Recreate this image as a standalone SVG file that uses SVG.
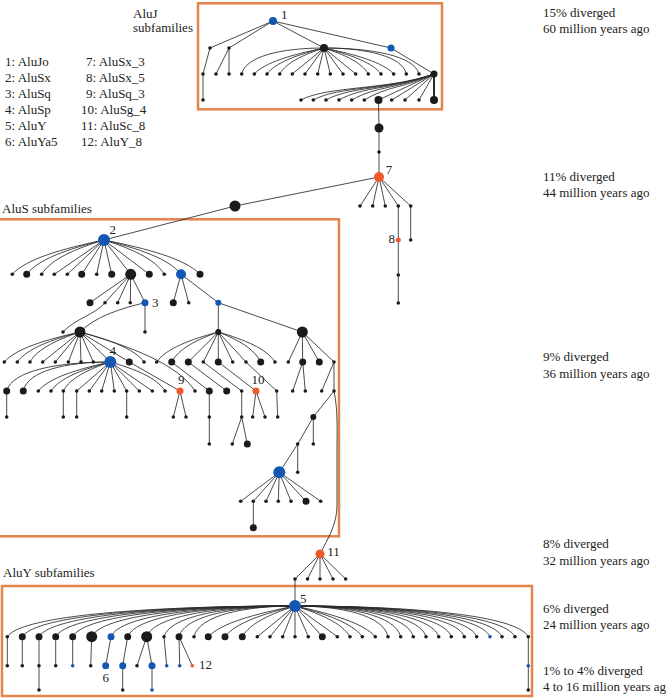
<svg xmlns="http://www.w3.org/2000/svg" width="666" height="700" viewBox="0 0 666 700">
<style>
.e{fill:none;stroke:#2b2b2b;stroke-width:.85}
.k{fill:#1b1b1b}.b{fill:#1357b3}.o{fill:#f05a2b}
.box{fill:none;stroke:#e5834d;stroke-width:2.5}
text{font-family:"Liberation Serif","Times New Roman",serif;font-size:13px;fill:#222}
</style>
<rect width="666" height="700" fill="#fff"/>
<g id="boxes">
<rect class="box" x="198" y="3.3" width="244" height="106"/>
<rect class="box" x="-2" y="219.3" width="341" height="317"/>
<rect class="box" x="2" y="586" width="530" height="110"/>
</g>
<g id="labels">
<text x="133" y="17.5">AluJ</text><text x="133" y="31.5">subfamilies</text>
<text x="5" y="65.7">1: AluJo</text><text x="5" y="81.7">2: AluSx</text><text x="5" y="97.7">3: AluSq</text>
<text x="5" y="113.7">4: AluSp</text><text x="5" y="129.7">5: AluY</text><text x="5" y="145.7">6: AluYa5</text>
<text x="86" y="65.7">7: AluSx_3</text><text x="86" y="81.7">8: AluSx_5</text><text x="86" y="97.7">9: AluSq_3</text>
<text x="81" y="113.7">10: AluSg_4</text><text x="81" y="129.7">11: AluSc_8</text><text x="81" y="145.7">12: AluY_8</text>
<text x="543" y="17">15% diverged</text><text x="543" y="32.5">60 million years ago</text>
<text x="543" y="181">11% diverged</text><text x="543" y="197">44 million years ago</text>
<text x="543" y="361">9% diverged</text><text x="543" y="377.5">36 million years ago</text>
<text x="543" y="548">8% diverged</text><text x="543" y="564.5">32 million years ago</text>
<text x="543" y="612.5">6% diverged</text><text x="543" y="628.5">24 million years ago</text>
<text x="543" y="675">1% to 4% diverged</text><text x="543" y="691">4 to 16 million years ago</text>
<text x="2" y="212.7">AluS subfamilies</text>
<text x="3" y="577.3">AluY subfamilies</text>
</g>
<g id="edges" class="e">
<path d="M273 21L210 48M273 21L229 48M273 21L324 48M273 21L391 48M210 48L203 74M203 74L203 100M229 48L216 74M229 48L229 74"/>
<path d="M324 48c-41.2 0-78.2 7.8-82.3 26"/><path d="M324 48c-31.4 6.5-59.2 14.3-69.7 26"/><path d="M324 48c-25.7 6.5-48.5 14.3-57 26"/><path d="M324 48c-19.9 6.5-37.7 14.3-44.3 26"/>
<path d="M324 48L292.3 74M324 48L305 74M324 48L317.7 74M324 48L330.3 74M324 48L343 74M324 48L355.7 74"/>
<path d="M324 48c19.9 6.5 37.7 14.3 44.3 26"/><path d="M324 48c25.7 6.5 48.5 14.3 57 26"/><path d="M324 48c31.4 6.5 59.2 14.3 69.7 26"/><path d="M324 48c41.2 0 78.2 7.8 82.3 26"/><path d="M324 48c47.5 0 90.3 7.8 95 26"/>
<path d="M391 48L434 74"/>
<path d="M434 74c-45 16-108 12-133 26"/><path d="M434 74c-45 16-95.7 12-120.7 26"/><path d="M434 74c-45 16-83 12-108 26"/><path d="M434 74c-45 16-70 12-95 26"/><path d="M434 74c-42 16-57.3 12-82.3 26"/><path d="M434 74c-30 14-47 12-69.7 26"/>
<path d="M434 74L378.5 100M434 74L391.7 100M434 74L405 100M434 74L419 100"/>
<path d="M434 74V100" style="stroke-width:2"/>
<path d="M378.5 100L379 128M379 128V152M379 152V177"/>
<path d="M379 177L360 206M379 177L372.7 206M379 177L385.3 206M379 177L398.3 206M379 177L410.7 206M398.3 206V240M398.3 240V275M398.3 275V303M410.7 206V240"/>
<path d="M379 177L235 206M235 206L104 240"/>
<path d="M104 240c-41.3 8.6-77.9 18.9-91.7 34.3"/><path d="M104 240c-34.8 8.6-65.7 18.9-77.3 34.3"/><path d="M104 240c-28 8.6-53 18.9-62.3 34.3"/>
<path d="M104 240L54.3 274.3M104 240L67.3 274.3M104 240L81.7 274.3M104 240L96.7 274.3M104 240L111.7 274.3M104 240L130.7 274.3M104 240L149.3 274.3"/>
<path d="M104 240c27.1 8.6 51.3 18.9 60.3 34.3"/><path d="M104 240c34.7 8.6 65.5 18.9 77 34.3"/><path d="M104 240c43.2 8.6 81.6 18.9 96 34.3"/>
<path d="M130.7 274.3L90 302.7M130.7 274.3L105 302.7M130.7 274.3L117.7 302.7M130.7 274.3L130.3 302.7M130.7 274.3L145 302.7"/>
<path d="M181 274.3L173.3 302.7M181 274.3L188.7 302.7M181 274.3L218.3 302.7"/>
<path d="M145 302.7c-25 6-50 14-65 29.3M145 302.7V332"/>
<path d="M105 302.7c-10 12-30 16-42 29.3"/>
<path d="M218.3 302.7V332M218.3 302.7L302.3 332"/>
<path d="M80 332c-34.1 7.6-64.3 16.7-75.7 30"/><path d="M80 332c-28.2 7.6-53.3 16.7-62.7 30"/><path d="M80 332c-22.5 7.6-42.5 16.7-50 30"/>
<path d="M80 332L42.7 362M80 332L55.3 362M80 332L68.3 362M80 332L81 362M80 332L93.3 362M80 332L110.3 362M80 332L129.3 362"/>
<path d="M80 332c28.8 7.6 54.4 16.7 64 30"/><path d="M80 332c51.8 14.7 97.8 32.3 115 59"/>
<path d="M110.3 362c-51.8 0-98.4 8.5-103.6 29"/><path d="M110.3 362c-43.5 0-82.7 8.5-87 29"/><path d="M110.3 362c-32.4 7.1-61.2 15.6-72 29"/><path d="M110.3 362c-26.7 7.1-50.4 15.6-59.3 29"/><path d="M110.3 362c-21.2 7.1-40 15.6-47 29"/>
<path d="M110.3 362L76.7 391M110.3 362L89.3 391M110.3 362L101.7 391M110.3 362L114.3 391M110.3 362L126.7 391M110.3 362L139.3 391M110.3 362L152.3 391"/>
<path d="M110.3 362c24.6 7.1 46.5 15.6 54.7 29"/>
<path d="M129.3 362L180 391"/>
<path d="M6.7 391V417M63.3 391V417M76.7 391V417M126.7 391V417M180 391L173.3 417M180 391L186 417"/>
<path d="M218.3 332c-27.7 7.5-52.4 16.5-61.6 30"/><path d="M218.3 332c-21 7.5-39.6 16.5-46.6 30"/>
<path d="M218.3 332L188.3 362M218.3 332L203.3 362M218.3 332V362M218.3 332L232.7 362M218.3 332L246 362"/>
<path d="M218.3 332c19.1 7.5 36 16.5 42.4 30"/><path d="M218.3 332c25.5 7.5 48.2 16.5 56.7 30"/>
<path d="M171.7 362L209.3 391M188.3 362L226.7 391M203.3 362L241.7 391M218.3 362L256 391M246 362L276.7 391"/>
<path d="M209.3 391V417M209.3 417V444M241.7 391V417M241.7 417L232.3 444M241.7 417L247.3 444M256 391L252.7 417M256 391L265 417M276.7 391L277.7 417"/>
<path d="M302.3 332L288.3 362M302.3 332L302.7 362M302.3 332L319.3 362M302.3 332L334 362"/>
<path d="M302.7 362L292.7 391M302.7 362L305.3 391M334 362L321.7 391M334 362V391M334 391L313.3 417M313.3 417L297.7 444M313.3 417V444M297.7 444V472.3M297.7 444L279.3 472.3"/>
<path d="M279.3 472.3L240.7 501.3M279.3 472.3L253.3 501.3M279.3 472.3L266 501.3M279.3 472.3L278.3 501.3M279.3 472.3L291 501.3M279.3 472.3L306 501.3M279.3 472.3L320.7 501.3M253.3 501.3V527.7"/>
<path d="M334 391C338 410 337 430 337 450L337 505C337 525 328 538 320 554"/>
<path d="M320 554L295 579M320 554L307.5 579M320 554V579M320 554L333 579M320 554L345.7 579M295 579V606"/>
<path d="M295 606c-143.9 0-273.3 9.2-287.7 30.7"/><path d="M295 606c-136.4 0-259.1 9.2-272.7 30.7"/><path d="M295 606c-128 0-243.2 9.2-256 30.7"/><path d="M295 606c-119.7 0-227.3 9.2-239.3 30.7"/><path d="M295 606c-111.2 0-211.2 9.2-222.3 30.7"/><path d="M295 606c-101.7 0-193.1 9.2-203.3 30.7"/><path d="M295 606c-92 0-174.8 9.2-184 30.7"/><path d="M295 606c-83.7 0-158.9 9.2-167.3 30.7"/><path d="M295 606c-74.2 0-140.9 9.2-148.3 30.7"/><path d="M295 606c-65.5 0-124.5 9.2-131 30.7"/><path d="M295 606c-58 0-110.2 9.2-116 30.7"/><path d="M295 606c-50.5 0-96 9.2-101 30.7"/>
<path d="M295 606c-39 7.7-73.7 16.9-86.7 30.7"/><path d="M295 606c-31.5 7.7-59.5 16.9-70 30.7"/><path d="M295 606c-23.7 7.7-44.8 16.9-52.7 30.7"/>
<path d="M295 606L257.3 636.7M295 606L270 636.7M295 606L282.7 636.7M295 606V636.7M295 606L308.3 636.7M295 606L322.3 636.7M295 606L337.3 636.7"/>
<path d="M295 606c24.8 7.7 46.8 16.9 55 30.7"/><path d="M295 606c30.3 7.7 57.2 16.9 67.3 30.7"/><path d="M295 606c36.1 7.7 68.3 16.9 80.3 30.7"/>
<path d="M295 606c46.5 0 88.4 9.2 93 30.7"/><path d="M295 606c52.9 0 100.4 9.2 105.7 30.7"/><path d="M295 606c59.2 0 112.4 9.2 118.3 30.7"/><path d="M295 606c65.5 0 124.5 9.2 131 30.7"/><path d="M295 606c71.9 0 136.5 9.2 143.7 30.7"/><path d="M295 606c78.2 0 148.5 9.2 156.3 30.7"/><path d="M295 606c84.7 0 160.8 9.2 169.3 30.7"/><path d="M295 606c90.9 0 172.6 9.2 181.7 30.7"/><path d="M295 606c97.5 0 185.3 9.2 195 30.7"/><path d="M295 606c103.5 0 196.7 9.2 207 30.7"/><path d="M295 606c110 0 209 9.2 220 30.7"/><path d="M295 606c116.7 0 221.6 9.2 233.3 30.7"/>
<path d="M7.3 636.7V665.7M22.3 636.7V665.7M39 636.7V665.7M39 665.7V690M55.7 636.7V665.7M72.7 636.7V665.7M91.7 636.7L90.7 665.7M111 636.7L105.7 665.7M127.7 636.7L122.7 665.7M122.7 665.7V690M146.7 636.7L137 665.7M146.7 636.7L152 665.7M152 665.7V690M164 636.7L166.7 665.7M179 636.7L179.7 665.7M179 636.7L192.3 665.7M528.3 636.7V665.7M528.3 665.7V690"/>
</g>
<g id="nodes">
<g id="n1"><circle class="b" cx="273" cy="21" r="4"/><text x="281" y="19">1</text></g>
<g id="j01"><circle class="k" cx="210" cy="48" r="1.8"/></g>
<g id="j02"><circle class="k" cx="229" cy="48" r="1.8"/></g>
<g id="j03"><circle class="k" cx="324" cy="48" r="4"/></g>
<g id="j04"><circle class="b" cx="391" cy="48" r="3.5"/></g>
<g id="j05"><circle class="k" cx="203" cy="74" r="1.8"/></g>
<g id="j06"><circle class="k" cx="203" cy="100" r="1.8"/></g>
<g id="j07"><circle class="k" cx="216" cy="74" r="1.8"/></g>
<g id="j08"><circle class="k" cx="229" cy="74" r="1.8"/></g>
<g id="j09"><circle class="k" cx="241.7" cy="74" r="1.8"/></g>
<g id="j10"><circle class="k" cx="254.3" cy="74" r="1.8"/></g>
<g id="j11"><circle class="k" cx="267" cy="74" r="1.8"/></g>
<g id="j12"><circle class="k" cx="279.7" cy="74" r="1.8"/></g>
<g id="j13"><circle class="k" cx="292.3" cy="74" r="1.8"/></g>
<g id="j14"><circle class="k" cx="305" cy="74" r="1.8"/></g>
<g id="j15"><circle class="k" cx="317.7" cy="74" r="1.8"/></g>
<g id="j16"><circle class="k" cx="330.3" cy="74" r="1.8"/></g>
<g id="j17"><circle class="k" cx="343" cy="74" r="1.8"/></g>
<g id="j18"><circle class="k" cx="355.7" cy="74" r="1.8"/></g>
<g id="j19"><circle class="k" cx="368.3" cy="74" r="1.8"/></g>
<g id="j20"><circle class="k" cx="381" cy="74" r="1.8"/></g>
<g id="j21"><circle class="k" cx="393.7" cy="74" r="1.8"/></g>
<g id="j22"><circle class="k" cx="406.3" cy="74" r="1.8"/></g>
<g id="j23"><circle class="k" cx="419" cy="74" r="1.8"/></g>
<g id="j24"><circle class="k" cx="434" cy="74" r="3.5"/></g>
<g id="j25"><circle class="k" cx="301" cy="100" r="1.8"/></g>
<g id="j26"><circle class="k" cx="313.3" cy="100" r="1.8"/></g>
<g id="j27"><circle class="k" cx="326" cy="100" r="1.8"/></g>
<g id="j28"><circle class="k" cx="339" cy="100" r="1.8"/></g>
<g id="j29"><circle class="k" cx="351.7" cy="100" r="1.8"/></g>
<g id="j30"><circle class="k" cx="364.3" cy="100" r="1.8"/></g>
<g id="j31"><circle class="k" cx="378.5" cy="100" r="4"/></g>
<g id="j32"><circle class="k" cx="391.7" cy="100" r="1.8"/></g>
<g id="j33"><circle class="k" cx="405" cy="100" r="1.8"/></g>
<g id="j34"><circle class="k" cx="419" cy="100" r="1.8"/></g>
<g id="j35"><circle class="k" cx="434" cy="100" r="4"/></g>
<g id="t1"><circle class="k" cx="379" cy="128" r="4.5"/></g>
<g id="t2"><circle class="k" cx="379" cy="152" r="1.8"/></g>
<g id="n7"><circle class="o" cx="379" cy="177" r="5"/><text x="385.7" y="174">7</text></g>
<g id="k1"><circle class="k" cx="360" cy="206" r="1.8"/></g>
<g id="k2"><circle class="k" cx="372.7" cy="206" r="1.8"/></g>
<g id="k3"><circle class="k" cx="385.3" cy="206" r="1.8"/></g>
<g id="k4"><circle class="k" cx="398.3" cy="206" r="1.8"/></g>
<g id="k5"><circle class="k" cx="410.7" cy="206" r="1.8"/></g>
<g id="n8"><circle class="o" cx="398.3" cy="240" r="2.5"/><text x="395" y="243.3" text-anchor="end">8</text></g>
<g id="k6"><circle class="k" cx="398.3" cy="275" r="1.8"/></g>
<g id="k7"><circle class="k" cx="398.3" cy="303" r="1.8"/></g>
<g id="k8"><circle class="k" cx="410.7" cy="240" r="1.8"/></g>
<g id="s1"><circle class="k" cx="235" cy="206" r="5.5"/></g>
<g id="n2"><circle class="b" cx="104" cy="240" r="6"/><text x="109.5" y="234">2</text></g>
<g id="s01"><circle class="k" cx="12.3" cy="274.3" r="1.8"/></g>
<g id="s02"><circle class="k" cx="26.7" cy="274.3" r="3.5"/></g>
<g id="s03"><circle class="k" cx="41.7" cy="274.3" r="1.8"/></g>
<g id="s04"><circle class="k" cx="54.3" cy="274.3" r="1.8"/></g>
<g id="s05"><circle class="k" cx="67.3" cy="274.3" r="1.8"/></g>
<g id="s06"><circle class="k" cx="81.7" cy="274.3" r="3.5"/></g>
<g id="s07"><circle class="k" cx="96.7" cy="274.3" r="1.8"/></g>
<g id="s08"><circle class="k" cx="111.7" cy="274.3" r="3.5"/></g>
<g id="s09"><circle class="k" cx="130.7" cy="274.3" r="5.5"/></g>
<g id="s10"><circle class="k" cx="149.3" cy="274.3" r="3.5"/></g>
<g id="s11"><circle class="k" cx="164.3" cy="274.3" r="1.8"/></g>
<g id="s12"><circle class="b" cx="181" cy="274.3" r="5"/></g>
<g id="s13"><circle class="k" cx="200" cy="274.3" r="3.5"/></g>
<g id="s14"><circle class="k" cx="90" cy="302.7" r="3.5"/></g>
<g id="s15"><circle class="k" cx="105" cy="302.7" r="1.8"/></g>
<g id="s16"><circle class="k" cx="117.7" cy="302.7" r="1.8"/></g>
<g id="s17"><circle class="k" cx="130.3" cy="302.7" r="1.8"/></g>
<g id="n3"><circle class="b" cx="145" cy="302.7" r="3.5"/><text x="152" y="306.7">3</text></g>
<g id="s18"><circle class="k" cx="173.3" cy="302.7" r="3.5"/></g>
<g id="s19"><circle class="k" cx="188.7" cy="302.7" r="1.8"/></g>
<g id="s20"><circle class="b" cx="218.3" cy="302.7" r="3"/></g>
<g id="s21"><circle class="k" cx="63" cy="332" r="1.8"/></g>
<g id="s22"><circle class="k" cx="80" cy="332" r="5.5"/></g>
<g id="s23"><circle class="k" cx="145" cy="332" r="1.8"/></g>
<g id="s24"><circle class="k" cx="218.3" cy="332" r="3"/></g>
<g id="s25"><circle class="k" cx="302.3" cy="332" r="5.5"/></g>
<g id="s26"><circle class="k" cx="4.3" cy="362" r="1.8"/></g>
<g id="s27"><circle class="k" cx="17.3" cy="362" r="1.8"/></g>
<g id="s28"><circle class="k" cx="30" cy="362" r="1.8"/></g>
<g id="s29"><circle class="k" cx="42.7" cy="362" r="1.8"/></g>
<g id="s30"><circle class="k" cx="55.3" cy="362" r="1.8"/></g>
<g id="s31"><circle class="k" cx="68.3" cy="362" r="1.8"/></g>
<g id="s32"><circle class="k" cx="81" cy="362" r="1.8"/></g>
<g id="s33"><circle class="k" cx="93.3" cy="362" r="1.8"/></g>
<g id="n4"><circle class="b" cx="110.3" cy="362" r="6"/><text x="109.5" y="355">4</text></g>
<g id="s34"><circle class="k" cx="129.3" cy="362" r="3.5"/></g>
<g id="s35"><circle class="k" cx="144" cy="362" r="1.8"/></g>
<g id="s36"><circle class="k" cx="156.7" cy="362" r="1.8"/></g>
<g id="s37"><circle class="k" cx="171.7" cy="362" r="3.5"/></g>
<g id="s38"><circle class="k" cx="188.3" cy="362" r="3.5"/></g>
<g id="s39"><circle class="k" cx="203.3" cy="362" r="1.8"/></g>
<g id="s40"><circle class="k" cx="218.3" cy="362" r="3.5"/></g>
<g id="s41"><circle class="k" cx="232.7" cy="362" r="1.8"/></g>
<g id="s42"><circle class="k" cx="246" cy="362" r="1.8"/></g>
<g id="s43"><circle class="k" cx="260.7" cy="362" r="3.5"/></g>
<g id="s44"><circle class="k" cx="275" cy="362" r="1.8"/></g>
<g id="s45"><circle class="k" cx="288.3" cy="362" r="1.8"/></g>
<g id="s46"><circle class="k" cx="302.7" cy="362" r="3.5"/></g>
<g id="s47"><circle class="k" cx="319.3" cy="362" r="3.5"/></g>
<g id="s48"><circle class="k" cx="334" cy="362" r="1.8"/></g>
<g id="s49"><circle class="k" cx="6.7" cy="391" r="3.5"/></g>
<g id="s50"><circle class="k" cx="23.3" cy="391" r="3.5"/></g>
<g id="s51"><circle class="k" cx="38.3" cy="391" r="1.8"/></g>
<g id="s52"><circle class="k" cx="51" cy="391" r="1.8"/></g>
<g id="s53"><circle class="k" cx="63.3" cy="391" r="1.8"/></g>
<g id="s54"><circle class="k" cx="76.7" cy="391" r="1.8"/></g>
<g id="s55"><circle class="k" cx="89.3" cy="391" r="1.8"/></g>
<g id="s56"><circle class="k" cx="101.7" cy="391" r="1.8"/></g>
<g id="s57"><circle class="k" cx="114.3" cy="391" r="1.8"/></g>
<g id="s58"><circle class="k" cx="126.7" cy="391" r="1.8"/></g>
<g id="s59"><circle class="k" cx="139.3" cy="391" r="1.8"/></g>
<g id="s60"><circle class="k" cx="152.3" cy="391" r="1.8"/></g>
<g id="s61"><circle class="k" cx="165" cy="391" r="1.8"/></g>
<g id="n9"><circle class="o" cx="180" cy="391" r="3.5"/><text x="178" y="384">9</text></g>
<g id="s62"><circle class="k" cx="195" cy="391" r="1.8"/></g>
<g id="s63"><circle class="k" cx="209.3" cy="391" r="3.5"/></g>
<g id="s64"><circle class="k" cx="226.7" cy="391" r="3.5"/></g>
<g id="s65"><circle class="k" cx="241.7" cy="391" r="1.8"/></g>
<g id="n10"><circle class="o" cx="256" cy="391" r="3.5"/><text x="251.5" y="384">10</text></g>
<g id="s66"><circle class="k" cx="276.7" cy="391" r="1.8"/></g>
<g id="s67"><circle class="k" cx="292.7" cy="391" r="1.8"/></g>
<g id="s68"><circle class="k" cx="305.3" cy="391" r="1.8"/></g>
<g id="s69"><circle class="k" cx="321.7" cy="391" r="1.8"/></g>
<g id="s70"><circle class="k" cx="334" cy="391" r="1.8"/></g>
<g id="s71"><circle class="k" cx="6.7" cy="417" r="1.8"/></g>
<g id="s72"><circle class="k" cx="63.3" cy="417" r="1.8"/></g>
<g id="s73"><circle class="k" cx="76.7" cy="417" r="1.8"/></g>
<g id="s74"><circle class="k" cx="126.7" cy="417" r="1.8"/></g>
<g id="s75"><circle class="k" cx="173.3" cy="417" r="1.8"/></g>
<g id="s76"><circle class="k" cx="186" cy="417" r="1.8"/></g>
<g id="s77"><circle class="k" cx="209.3" cy="417" r="1.8"/></g>
<g id="s78"><circle class="k" cx="241.7" cy="417" r="1.8"/></g>
<g id="s79"><circle class="k" cx="252.7" cy="417" r="1.8"/></g>
<g id="s80"><circle class="k" cx="265" cy="417" r="1.8"/></g>
<g id="s81"><circle class="k" cx="277.7" cy="417" r="1.8"/></g>
<g id="s82"><circle class="k" cx="313.3" cy="417" r="3"/></g>
<g id="s83"><circle class="k" cx="209.3" cy="444" r="1.8"/></g>
<g id="s84"><circle class="k" cx="232.3" cy="444" r="1.8"/></g>
<g id="s85"><circle class="k" cx="247.3" cy="444" r="3.5"/></g>
<g id="s86"><circle class="k" cx="297.7" cy="444" r="1.8"/></g>
<g id="s87"><circle class="k" cx="313.3" cy="444" r="1.8"/></g>
<g id="s88"><circle class="b" cx="279.3" cy="472.3" r="6"/></g>
<g id="s89"><circle class="k" cx="297.7" cy="472.3" r="1.8"/></g>
<g id="s90"><circle class="k" cx="240.7" cy="501.3" r="1.8"/></g>
<g id="s91"><circle class="k" cx="253.3" cy="501.3" r="1.8"/></g>
<g id="s92"><circle class="k" cx="266" cy="501.3" r="1.8"/></g>
<g id="s93"><circle class="k" cx="278.3" cy="501.3" r="1.8"/></g>
<g id="s94"><circle class="k" cx="291" cy="501.3" r="1.8"/></g>
<g id="s95"><circle class="k" cx="306" cy="501.3" r="3.5"/></g>
<g id="s96"><circle class="k" cx="320.7" cy="501.3" r="1.8"/></g>
<g id="s97"><circle class="k" cx="253.3" cy="527.7" r="3.5"/></g>
<g id="n11"><circle class="o" cx="320" cy="554" r="4.5"/><text x="327.3" y="556">11</text></g>
<g id="y01"><circle class="k" cx="295" cy="579" r="1.8"/></g>
<g id="y02"><circle class="k" cx="307.5" cy="579" r="1.8"/></g>
<g id="y03"><circle class="k" cx="320" cy="579" r="1.8"/></g>
<g id="y04"><circle class="k" cx="333" cy="579" r="1.8"/></g>
<g id="y05"><circle class="k" cx="345.7" cy="579" r="1.8"/></g>
<g id="n5"><circle class="b" cx="295" cy="606" r="6"/><text x="300" y="602.7">5</text></g>
<g id="y06"><circle class="k" cx="7.3" cy="636.7" r="1.8"/></g>
<g id="y07"><circle class="k" cx="22.3" cy="636.7" r="3.5"/></g>
<g id="y08"><circle class="k" cx="39" cy="636.7" r="3.5"/></g>
<g id="y09"><circle class="k" cx="55.7" cy="636.7" r="3.5"/></g>
<g id="y10"><circle class="k" cx="72.7" cy="636.7" r="3.5"/></g>
<g id="y11"><circle class="k" cx="91.7" cy="636.7" r="5.5"/></g>
<g id="y12"><circle class="b" cx="111" cy="636.7" r="3.5"/></g>
<g id="y13"><circle class="k" cx="127.7" cy="636.7" r="3.5"/></g>
<g id="y14"><circle class="k" cx="146.7" cy="636.7" r="5.5"/></g>
<g id="y15"><circle class="k" cx="164" cy="636.7" r="1.8"/></g>
<g id="y16"><circle class="k" cx="179" cy="636.7" r="3.5"/></g>
<g id="y17"><circle class="k" cx="194" cy="636.7" r="1.8"/></g>
<g id="y18"><circle class="k" cx="208.3" cy="636.7" r="3.5"/></g>
<g id="y19"><circle class="k" cx="225" cy="636.7" r="3.5"/></g>
<g id="y20"><circle class="k" cx="242.3" cy="636.7" r="3.5"/></g>
<g id="y21"><circle class="k" cx="257.3" cy="636.7" r="1.8"/></g>
<g id="y22"><circle class="k" cx="270" cy="636.7" r="1.8"/></g>
<g id="y23"><circle class="k" cx="282.7" cy="636.7" r="1.8"/></g>
<g id="y24"><circle class="k" cx="295" cy="636.7" r="1.8"/></g>
<g id="y25"><circle class="k" cx="308.3" cy="636.7" r="1.8"/></g>
<g id="y26"><circle class="k" cx="322.3" cy="636.7" r="3.5"/></g>
<g id="y27"><circle class="k" cx="337.3" cy="636.7" r="1.8"/></g>
<g id="y28"><circle class="k" cx="350" cy="636.7" r="1.8"/></g>
<g id="y29"><circle class="k" cx="362.3" cy="636.7" r="1.8"/></g>
<g id="y30"><circle class="k" cx="375.3" cy="636.7" r="1.8"/></g>
<g id="y31"><circle class="k" cx="388" cy="636.7" r="1.8"/></g>
<g id="y32"><circle class="k" cx="400.7" cy="636.7" r="1.8"/></g>
<g id="y33"><circle class="k" cx="413.3" cy="636.7" r="1.8"/></g>
<g id="y34"><circle class="k" cx="426" cy="636.7" r="1.8"/></g>
<g id="y35"><circle class="k" cx="438.7" cy="636.7" r="1.8"/></g>
<g id="y36"><circle class="k" cx="451.3" cy="636.7" r="1.8"/></g>
<g id="y37"><circle class="k" cx="464.3" cy="636.7" r="1.8"/></g>
<g id="y38"><circle class="k" cx="476.7" cy="636.7" r="1.8"/></g>
<g id="y39"><circle class="b" cx="490" cy="636.7" r="1.8"/></g>
<g id="y40"><circle class="k" cx="502" cy="636.7" r="1.8"/></g>
<g id="y41"><circle class="k" cx="515" cy="636.7" r="1.8"/></g>
<g id="y42"><circle class="k" cx="528.3" cy="636.7" r="1.8"/></g>
<g id="y43"><circle class="k" cx="7.3" cy="665.7" r="1.8"/></g>
<g id="y44"><circle class="k" cx="22.3" cy="665.7" r="1.8"/></g>
<g id="y45"><circle class="k" cx="39" cy="665.7" r="1.8"/></g>
<g id="y46"><circle class="k" cx="55.7" cy="665.7" r="1.8"/></g>
<g id="y47"><circle class="b" cx="72.7" cy="665.7" r="1.8"/></g>
<g id="y48"><circle class="k" cx="90.7" cy="665.7" r="1.8"/></g>
<g id="n6"><circle class="b" cx="105.7" cy="665.7" r="3.5"/><text x="105.7" y="682" text-anchor="middle">6</text></g>
<g id="y49"><circle class="b" cx="122.7" cy="665.7" r="3.5"/></g>
<g id="y50"><circle class="k" cx="137" cy="665.7" r="1.8"/></g>
<g id="y51"><circle class="b" cx="152" cy="665.7" r="3.5"/></g>
<g id="y52"><circle class="b" cx="166.7" cy="665.7" r="1.8"/></g>
<g id="y53"><circle class="b" cx="179.7" cy="665.7" r="1.8"/></g>
<g id="n12"><circle class="o" cx="192.3" cy="665.7" r="1.8"/><text x="199" y="669.3">12</text></g>
<g id="y54"><circle class="b" cx="528.3" cy="665.7" r="1.8"/></g>
<g id="y55"><circle class="k" cx="39" cy="690" r="1.8"/></g>
<g id="y56"><circle class="k" cx="122.7" cy="690" r="1.8"/></g>
<g id="y57"><circle class="b" cx="152" cy="690" r="1.8"/></g>
<g id="y58"><circle class="k" cx="528.3" cy="690" r="1.8"/></g>
</g>
</svg>
